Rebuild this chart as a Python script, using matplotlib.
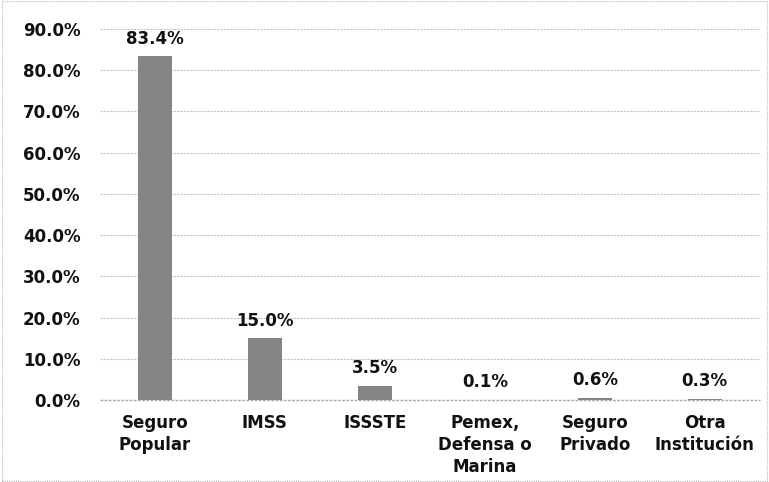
import matplotlib
matplotlib.use("Agg")
import matplotlib.pyplot as plt
from matplotlib.patches import Rectangle

categories = ["Seguro\nPopular", "IMSS", "ISSSTE", "Pemex,\nDefensa o\nMarina", "Seguro\nPrivado", "Otra\nInstitución"]
values = [83.4, 15.0, 3.5, 0.1, 0.6, 0.3]
yticks = [0, 10, 20, 30, 40, 50, 60, 70, 80, 90]

plt.rcParams['font.family'] = ['DejaVu Sans']
fig = plt.figure(figsize=(7.69, 4.82), dpi=100)
ax = fig.add_axes([0.130, 0.170, 0.858, 0.770])

x = list(range(len(categories)))
ax.bar(x, values, width=0.31, color="#858585", zorder=3)
for xi, v in zip(x, values):
    ax.annotate(f"{v:.1f}%", (xi, v), xytext=(0, 6), textcoords="offset points",
                ha="center", va="bottom", fontsize=12, fontweight="bold", color="#111111")

ax.set_xlim(-0.5, len(categories) - 0.5)
ax.set_ylim(0, 90)
ax.set_yticks(yticks)
ax.set_yticklabels([f"{t:.1f}%" for t in yticks], fontsize=12, fontweight="bold", color="#111111")
ax.set_xticks(x)
ax.set_xticklabels(categories, fontsize=12, fontweight="bold", linespacing=1.3, color="#111111")
ax.tick_params(axis="both", length=0)
ax.tick_params(axis="x", pad=10)
ax.tick_params(axis="y", pad=14)
ax.yaxis.grid(True, color="#c4c4c4", linewidth=0.8, linestyle=(0, (2, 1)), zorder=0)
for s in ax.spines.values():
    s.set_visible(False)
ax.axhline(0, color="#a8a8a8", linewidth=1.0, linestyle=(0, (2, 1)), zorder=2, clip_on=False)

fig.patches.append(Rectangle((0.003, 0.003), 0.994, 0.994, transform=fig.transFigure,
                             fill=False, edgecolor="#bbbbbb", linewidth=0.8, linestyle=(0, (1, 1))))
fig.savefig("out.png", dpi=100)
